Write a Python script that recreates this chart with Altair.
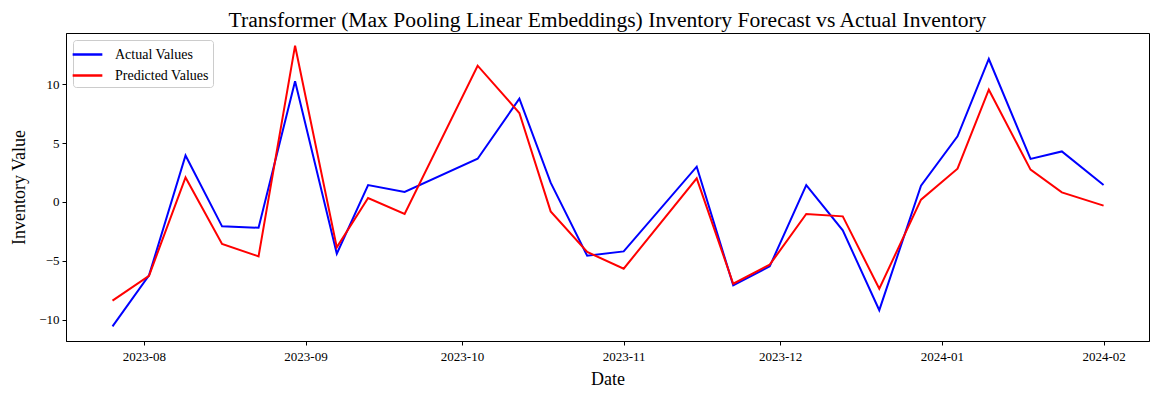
import altair as alt
import pandas as pd

dates = ["2023-07-26", "2023-08-02", "2023-08-09", "2023-08-16", "2023-08-23", "2023-08-30",
         "2023-09-07", "2023-09-13", "2023-09-20", "2023-10-04", "2023-10-12", "2023-10-18",
         "2023-10-25", "2023-11-01", "2023-11-15", "2023-11-22", "2023-11-29", "2023-12-06",
         "2023-12-13", "2023-12-20", "2023-12-28", "2024-01-04", "2024-01-10", "2024-01-18",
         "2024-01-24", "2024-02-01"]
actual = [-10.58, -6.24, 3.96, -2.07, -2.19, 10.26, -4.40, 1.44, 0.85, 3.68, 8.78, 1.64,
          -4.57, -4.20, 3.0, -7.09, -5.47, 1.44, -2.41, -9.2, 1.39, 5.58, 12.16, 3.66, 4.30, 1.44]
predicted = [-8.39, -6.27, 2.09, -3.57, -4.62, 13.29, -3.86, 0.34, -1.02, 11.59, 7.57, -0.80,
             -4.25, -5.67, 2.01, -6.95, -5.33, -1.02, -1.22, -7.37, 0.20, 2.83, 9.55, 2.75, 0.82, -0.31]
series_names = ["Actual Values", "Predicted Values"]
series_colors = ["#0000ff", "#ff0000"]
y_ticks = [-10, -5, 0, 5, 10]

rows = []
for d, a, p in zip(dates, actual, predicted):
    rows.append({"date": d + "T00:00:00", "value": a, "series": series_names[0]})
    rows.append({"date": d + "T00:00:00", "value": p, "series": series_names[1]})
df = pd.DataFrame(rows)

FONT = "Liberation Serif"
month_ticks = [alt.DateTime(year=y, month=m, date=1) for y, m in
               [(2023, 8), (2023, 9), (2023, 10), (2023, 11), (2023, 12), (2024, 1), (2024, 2)]]

chart = alt.Chart(df).mark_line(strokeWidth=2).encode(
    x=alt.X("date:T", title="Date",
            scale=alt.Scale(domain=[alt.DateTime(year=2023, month=7, date=17, hours=2),
                                    alt.DateTime(year=2024, month=2, date=9, hours=17)]),
            axis=alt.Axis(values=month_ticks, format="%Y-%m", grid=False, labelAngle=0,
                          labelPadding=5, titlePadding=7)),
    y=alt.Y("value:Q", title="Inventory Value",
            scale=alt.Scale(domain=[-11.82, 14.37], nice=False, zero=False),
            axis=alt.Axis(values=y_ticks, format="d", grid=False, titlePadding=10)),
    color=alt.Color("series:N", title=None,
                    scale=alt.Scale(domain=series_names, range=series_colors),
                    legend=alt.Legend(orient="none", legendX=7, legendY=7,
                                      symbolType="M-1.65,0H1.65", symbolStrokeWidth=2.5, symbolSize=324,
                                      labelFontSize=14, labelFont=FONT, labelColor="black",
                                      labelOffset=17,
                                      strokeColor="#cccccc", fillColor="white", cornerRadius=3,
                                      padding=4, rowPadding=3)),
).properties(
    width=1083, height=308,
    title=alt.TitleParams("Transformer (Max Pooling Linear Embeddings) Inventory Forecast vs Actual Inventory",
                          font=FONT, fontSize=21.6, fontWeight="normal", color="black", offset=1),
    autosize=alt.AutoSizeParams(type="none"),
    padding={"left": 58, "top": 25, "right": 2, "bottom": 50},
).configure_view(
    stroke="black", strokeWidth=1
).configure_axis(
    domainColor="black", tickColor="black", tickSize=4, labelFont=FONT, labelFontSize=13,
    labelColor="black", titleFont=FONT, titleFontSize=18, titleFontWeight="normal",
    titleColor="black", labelPadding=3
)

chart.save("out.html", embed_options={"renderer": "svg", "actions": False})
